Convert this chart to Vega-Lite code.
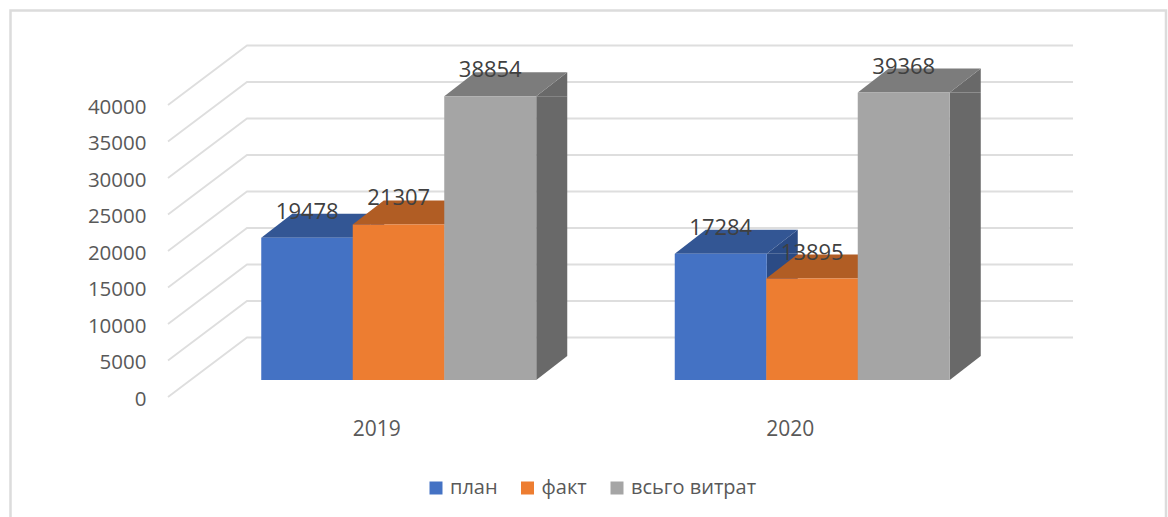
{
"$schema":"https://vega.github.io/schema/vega-lite/v6.json",
"width":827,"height":292,
"autosize":{"type":"none"},
"padding":{"left":170,"right":171,"top":105,"bottom":120},
"background":"#ffffff",
"config":{"view":{"stroke":null},"font":"Open Sans","axis":{"labelOverlap":false}},
"data":{"values":[
{"year":"2019","series":"план","value":19478},
{"year":"2019","series":"факт","value":21307},
{"year":"2019","series":"всьго витрат","value":38854},
{"year":"2020","series":"план","value":17284},
{"year":"2020","series":"факт","value":13895},
{"year":"2020","series":"всьго витрат","value":39368}
]},
"layer":[
{"data":{"values":[{"frame":1}]},
 "mark":{"type":"point","shape":"M-573,266L-573,-240.5L582.5,-240.5L582.5,266","size":4,"filled":false,"stroke":"#dcdcdc","strokeWidth":2.5,"opacity":1},
 "encoding":{}},
{"data":{"values":[{"tick":0},{"tick":5000},{"tick":10000},{"tick":15000},{"tick":20000},{"tick":25000},{"tick":30000},{"tick":35000},{"tick":40000}]},
 "mark":{"type":"point","shape":"M-415.5,0L-336.5,-59.5L489.5,-59.5","size":4,"filled":false,"stroke":"#dedede","strokeWidth":1.8,"opacity":1},
 "encoding":{"y":{"field":"tick","type":"quantitative","scale":{"domain":[0,40000],"nice":false},
   "axis":{"title":null,"values":[0,5000,10000,15000,20000,25000,30000,35000,40000],"format":"d","domain":false,"ticks":false,"grid":false,"labelOverlap":false,"labelOffset":2,"labelPadding":24,"labelFontSize":20.5,"labelColor":"#595959","labelFont":"Open Sans"}}}},
{"encoding":{
  "x":{"field":"year","type":"nominal","scale":{"domain":["2019","2020"],"paddingInner":0,"paddingOuter":0},
    "axis":{"title":null,"domain":false,"ticks":false,"grid":false,"labelAngle":0,"labelPadding":21,"labelFontSize":21,"labelColor":"#595959","labelFont":"Open Sans"}},
  "y":{"field":"value","type":"quantitative","axis":{"title":null,"values":[0,5000,10000,15000,20000,25000,30000,35000,40000],"format":"d","domain":false,"ticks":false,"grid":false,"labelOverlap":false,"labelOffset":2,"labelPadding":24,"labelFontSize":20.5,"labelColor":"#595959","labelFont":"Open Sans"}}
 },
 "layer":[
  {"transform":[{"filter":"datum.series==='план'"}],"mark":{"type":"bar","width":31,"xOffset":-8,"yOffset":-17,"y2Offset":-41,"color":"#2b4b85"},"encoding":{"y2":{"datum":0}}},
  {"transform":[{"filter":"datum.series==='план'"}],"mark":{"type":"point","shape":"M46,0L77,-24L77,0Z","size":4,"filled":true,"color":"#2b4b85","opacity":1,"xOffset":-69.5,"yOffset":-17}},
  {"transform":[{"filter":"datum.series==='план'"}],"mark":{"type":"point","shape":"M-46,0L46,0L77,-24L-15,-24Z","size":4,"filled":true,"color":"#335694","opacity":1,"xOffset":-69.5,"yOffset":-17}},
  {"transform":[{"filter":"datum.series==='план'"}],"mark":{"type":"bar","width":92,"xOffset":-69.5,"yOffset":-17,"y2Offset":-17},"encoding":{"y2":{"datum":0},
    "color":{"field":"series","type":"nominal","scale":{"domain":["план","факт","всьго витрат"],"range":["#4472c4","#ed7d31","#a5a5a5"]},
      "legend":{"title":null,"orient":"none","legendX":256,"legendY":373,"direction":"horizontal","columns":3,"columnPadding":19.5,"padding":0,"symbolType":"square","symbolSize":169,"symbolStrokeWidth":0,"labelOffset":4,"labelFontSize":20,"labelColor":"#595959","labelFont":"Open Sans"}}}},
  {"transform":[{"filter":"datum.series==='факт'"}],"mark":{"type":"point","shape":"M-46,0L46,0L77,-24L-15,-24Z","size":4,"filled":true,"color":"#b15d24","opacity":1,"xOffset":22,"yOffset":-17}},
  {"transform":[{"filter":"datum.series==='факт'"}],"mark":{"type":"bar","width":92,"xOffset":22,"yOffset":-17,"y2Offset":-17},"encoding":{"y2":{"datum":0},"color":{"field":"series","type":"nominal"}}},
  {"transform":[{"filter":"datum.series==='всьго витрат'"}],"mark":{"type":"bar","width":31,"xOffset":175,"yOffset":-17,"y2Offset":-41,"color":"#696969"},"encoding":{"y2":{"datum":0}}},
  {"transform":[{"filter":"datum.series==='всьго витрат'"}],"mark":{"type":"point","shape":"M46,0L77,-24L77,0Z","size":4,"filled":true,"color":"#696969","opacity":1,"xOffset":113.5,"yOffset":-17}},
  {"transform":[{"filter":"datum.series==='всьго витрат'"}],"mark":{"type":"point","shape":"M46,0L77,-24L46,-24Z","size":4,"filled":true,"color":"#696969","opacity":1,"xOffset":113.5,"yOffset":-17},"encoding":{"y":{"datum":0}}},
  {"transform":[{"filter":"datum.series==='всьго витрат'"}],"mark":{"type":"point","shape":"M-46,0L46,0L77,-24L-15,-24Z","size":4,"filled":true,"color":"#7c7c7c","opacity":1,"xOffset":113.5,"yOffset":-17}},
  {"transform":[{"filter":"datum.series==='всьго витрат'"}],"mark":{"type":"bar","width":92,"xOffset":113.5,"yOffset":-17,"y2Offset":-17},"encoding":{"y2":{"datum":0},"color":{"field":"series","type":"nominal"}}},
  {"transform":[{"filter":"datum.series==='план'"}],"mark":{"type":"text","xOffset":-69.5,"yOffset":-43,"fontSize":22,"font":"Open Sans","color":"#404040"},"encoding":{"text":{"field":"value","type":"quantitative","format":"d"}}},
  {"transform":[{"filter":"datum.series==='факт'"}],"mark":{"type":"text","xOffset":22,"yOffset":-43,"fontSize":22,"font":"Open Sans","color":"#404040"},"encoding":{"text":{"field":"value","type":"quantitative","format":"d"}}},
  {"transform":[{"filter":"datum.series==='всьго витрат'"}],"mark":{"type":"text","xOffset":113.5,"yOffset":-43,"fontSize":22,"font":"Open Sans","color":"#404040"},"encoding":{"text":{"field":"value","type":"quantitative","format":"d"}}}
 ]}
]
}
